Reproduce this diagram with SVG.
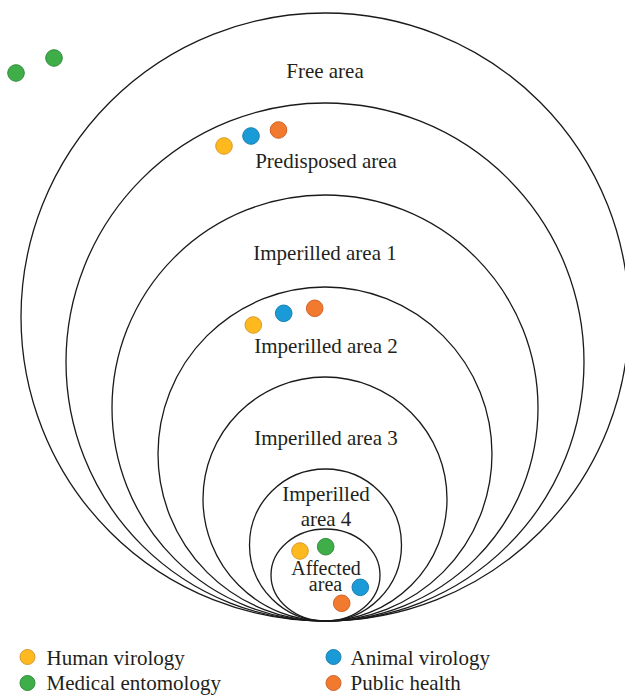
<svg xmlns="http://www.w3.org/2000/svg" width="625" height="695" viewBox="0 0 625 695">
<style>
.ring{fill:none;stroke:#1a1a1a;stroke-width:1.3}
.lbl{font-family:"Liberation Serif","Times New Roman",serif;font-size:21px;fill:#231f20;text-anchor:middle}
.sm{font-size:20px}
.leg{font-family:"Liberation Serif","Times New Roman",serif;font-size:21px;fill:#231f20}
.hv{fill:#FDB91E;stroke:#D99A2B;stroke-width:1}
.av{fill:#1A9BD7;stroke:#1A7FB0;stroke-width:1}
.me{fill:#3FAE49;stroke:#2E8C3A;stroke-width:1}
.ph{fill:#F27A2E;stroke:#D0632A;stroke-width:1}
</style>
<rect width="625" height="695" fill="#ffffff"/>
<g id="free-area">
<circle class="ring" cx="325" cy="317" r="304"/>
<text class="lbl" x="325" y="78">Free area</text>
<circle class="me" cx="16" cy="73" r="8.3"/>
<circle class="me" cx="54" cy="58" r="8.3"/>
</g>
<g id="predisposed-area">
<circle class="ring" cx="325" cy="362" r="259"/>
<text class="lbl" x="326" y="168">Predisposed area</text>
<circle class="hv" cx="224" cy="146" r="8.3"/>
<circle class="av" cx="251" cy="136" r="8.3"/>
<circle class="ph" cx="278.5" cy="130" r="8.3"/>
</g>
<g id="imperilled-area-1">
<circle class="ring" cx="325" cy="408" r="213"/>
<text class="lbl" x="325" y="260">Imperilled area 1</text>
</g>
<g id="imperilled-area-2">
<circle class="ring" cx="325" cy="454" r="167"/>
<text class="lbl" x="326" y="353">Imperilled area 2</text>
<circle class="hv" cx="253.3" cy="325" r="8.3"/>
<circle class="av" cx="283.7" cy="313.3" r="8.3"/>
<circle class="ph" cx="314.7" cy="308.3" r="8.3"/>
</g>
<g id="imperilled-area-3">
<circle class="ring" cx="325" cy="499" r="122"/>
<text class="lbl" x="326" y="445">Imperilled area 3</text>
</g>
<g id="imperilled-area-4">
<circle class="ring" cx="325.5" cy="545" r="76"/>
<text class="lbl" x="326" y="501">Imperilled</text>
<text class="lbl" x="326" y="526">area 4</text>
</g>
<g id="affected-area">
<ellipse class="ring" cx="325.5" cy="575" rx="54.5" ry="46"/>
<text class="lbl sm" x="326" y="575">Affected</text>
<text class="lbl sm" x="325.5" y="591">area</text>
<circle class="hv" cx="300" cy="551" r="8.3"/>
<circle class="me" cx="325.7" cy="546.7" r="8.3"/>
<circle class="av" cx="360.3" cy="587.3" r="8.3"/>
<circle class="ph" cx="341.7" cy="603.3" r="8.3"/>
</g>
<g id="connectors"></g>
<g id="legend">
<circle class="hv" cx="27.5" cy="657" r="7.5"/>
<text class="leg" x="46.5" y="665">Human virology</text>
<circle class="me" cx="27.5" cy="683" r="7.5"/>
<text class="leg" x="46.5" y="690">Medical entomology</text>
<circle class="av" cx="333.5" cy="657" r="7.5"/>
<text class="leg" x="350.5" y="665">Animal virology</text>
<circle class="ph" cx="333.5" cy="683" r="7.5"/>
<text class="leg" x="350.5" y="690">Public health</text>
</g>
</svg>
